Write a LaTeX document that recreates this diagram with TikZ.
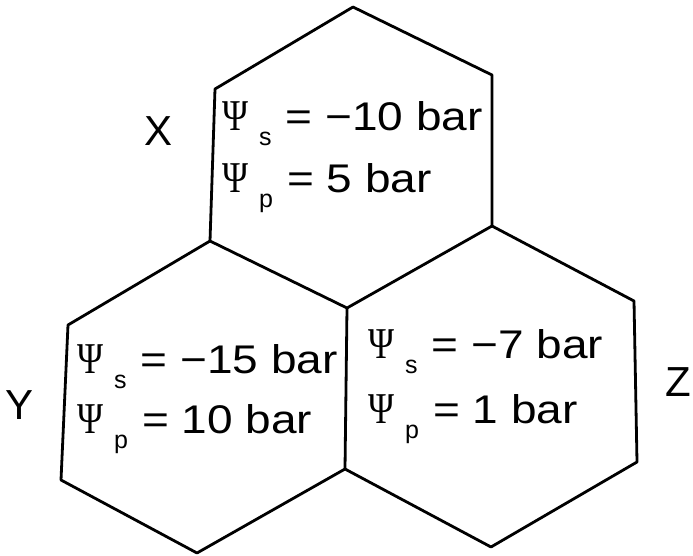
\documentclass[tikz,border=0pt]{standalone}
\usepackage{graphicx}
\usepackage{fontspec}
\setmainfont{Liberation Sans}
\newfontfamily\grk{Liberation Serif}
\usetikzlibrary{positioning}

% water potential line: symbol, subscript, value
\newcommand{\pot}[2]{\scalebox{0.8}[1]{\fontsize{44}{46}\grk Ψ}\hspace{11pt}%
  \raisebox{-15pt}{\fontsize{25}{25}\selectfont #1}\hspace{14pt}%
  \scalebox{1.15}[1]{= #2}}

\begin{document}
\begin{tikzpicture}[x=1pt,y=-1pt,
    cell/.style={line width=2.8pt, line join=round},
    val/.style={anchor=base west, inner sep=0pt, font=\fontsize{40}{46}\selectfont},
    lab/.style={font=\fontsize{42}{48}\selectfont}]
  \useasboundingbox (0,0) rectangle (693,556);
  % corners of the three cells
  \coordinate (xtop) at (353,7);
  \coordinate (xul) at (215,89);
  \coordinate (xur) at (492,75);
  \coordinate (ytop) at (210,241);
  \coordinate (ztop) at (492,226);
  \coordinate (mid) at (347,308);
  \coordinate (yul) at (68,325);
  \coordinate (yll) at (61,480);
  \coordinate (ybot) at (197,553);
  \coordinate (low) at (345,469);
  \coordinate (zur) at (634,301);
  \coordinate (zlr) at (637,462);
  \coordinate (zbot) at (491,547);
  % cells X, Y, Z
  \draw[cell] (xtop) -- (xul) -- (ytop) -- (mid) -- (ztop) -- (xur) -- cycle;
  \draw[cell] (ytop) -- (yul) -- (yll) -- (ybot) -- (low) -- (mid);
  \draw[cell] (ztop) -- (zur) -- (zlr) -- (zbot) -- (low);
  % potentials
  \node[val] (xs) at (222,131) {\pot{s}{−10 bar}};
  \node[val] (xp) at (222,193) {\pot{p}{5 bar}};
  \node[val] (ys) at (77,373) {\pot{s}{−15 bar}};
  \node[val] (yp) at (77,433) {\pot{p}{10 bar}};
  \node[val] (zs) at (368,358) {\pot{s}{−7 bar}};
  \node[val] (zp) at (368,423) {\pot{p}{1 bar}};
  % cell names
  \node[lab] (xname) at (159,131) {X};
  \node[lab] (yname) at (20,405) {Y};
  \node[lab] (zname) at (678,382) {Z};
\end{tikzpicture}
\end{document}
